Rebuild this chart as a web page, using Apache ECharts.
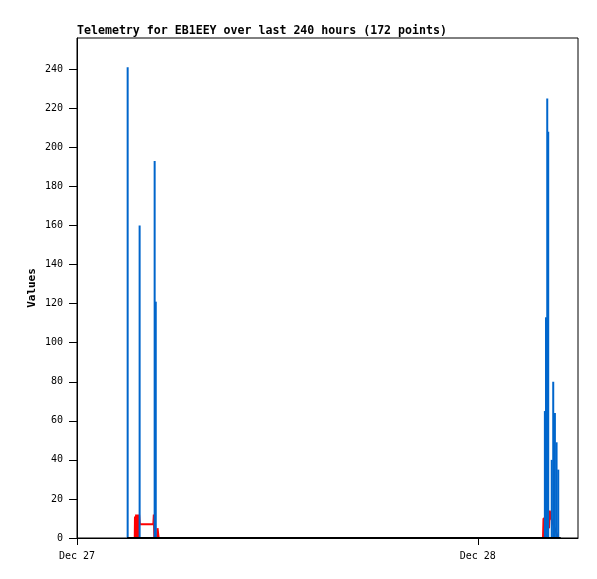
<!DOCTYPE html>
<html>
<head>
<meta charset="utf-8">
<script src="https://cdn.jsdelivr.net/npm/echarts@6/dist/echarts.min.js"></script>
<style>html,body{margin:0;padding:0;background:#fff}#c{width:597px;height:579px}</style>
</head>
<body>
<div id="c"></div>
<script>
// ---- data ----
const titleText = 'Telemetry for EB1EEY over last 240 hours (172 points)';
const yAxisName = 'Values';
const xStart = '2023-12-27T00:00:00Z';
const xEnd = '2023-12-28T06:00:00Z';
const yTicks = [0, 20, 40, 60, 80, 100, 120, 140, 160, 180, 200, 220, 240];

const blueTimes = [
  '2023-12-27T03:02:00Z', '2023-12-27T03:45:00Z', '2023-12-27T04:39:00Z', '2023-12-27T04:43:00Z',
  '2023-12-28T04:01:00Z', '2023-12-28T04:05:00Z', '2023-12-28T04:09:30Z', '2023-12-28T04:13:00Z',
  '2023-12-28T04:25:40Z', '2023-12-28T04:31:00Z', '2023-12-28T04:37:00Z', '2023-12-28T04:43:00Z',
  '2023-12-28T04:49:00Z'
];
const blueValues = [241, 160, 193, 121, 65, 113, 225, 208, 40, 80, 64, 49, 35];

const redTimes = [
  '2023-12-27T03:27:30Z', '2023-12-27T03:28:20Z', '2023-12-27T03:29:10Z', '2023-12-27T03:30:15Z',
  '2023-12-27T03:31:20Z', '2023-12-27T03:32:15Z', '2023-12-27T03:33:10Z', '2023-12-27T03:34:05Z',
  '2023-12-27T03:35:00Z', '2023-12-27T03:35:55Z', '2023-12-27T03:36:50Z', '2023-12-27T03:37:40Z',
  '2023-12-27T03:38:35Z', '2023-12-27T03:39:30Z', '2023-12-27T03:40:20Z', '2023-12-27T03:41:10Z',
  '2023-12-27T03:42:05Z', '2023-12-27T03:43:00Z', '2023-12-27T03:43:55Z', '2023-12-27T03:45:40Z',
  '2023-12-27T04:34:20Z', '2023-12-27T04:36:00Z', '2023-12-27T04:37:55Z', '2023-12-27T04:39:40Z',
  '2023-12-27T04:41:30Z', '2023-12-27T04:49:00Z', '2023-12-27T04:49:22Z', '2023-12-27T04:52:58Z',
  '2023-12-27T04:53:20Z',
  '2023-12-28T03:54:20Z', '2023-12-28T03:56:05Z', '2023-12-28T04:05:50Z', '2023-12-28T04:15:55Z',
  '2023-12-28T04:18:25Z', '2023-12-28T04:21:20Z', '2023-12-28T04:23:50Z', '2023-12-28T04:49:00Z'
];
const redValues = [
  0, 11, 0, 11, 0, 12, 0, 12, 0, 12, 0, 12, 0, 12, 0, 12, 0, 12, 12, 7,
  7, 12, 0, 12, 0, 0, 5, 5, 0,
  0, 10, 10, 5, 14, 14, 10, 0
];

const zeroTimes = ['2023-12-27T03:00:00Z', '2023-12-28T04:58:00Z'];
const zeroValues = [0, 0];

// ---- chart ----
const t = s => Date.parse(s);
const pair = (ts, vs) => ts.map((s, i) => [t(s), vs[i]]);
const MON = ['Jan','Feb','Mar','Apr','May','Jun','Jul','Aug','Sep','Oct','Nov','Dec'];
const DAY = 86400000;
const mono = 'DejaVu Sans Mono';

const chart = echarts.init(document.getElementById('c'), null, {renderer: 'canvas'});
chart.setOption({
  animation: false,
  backgroundColor: '#fff',
  title: {
    text: titleText, left: 77, top: 25, padding: 0,
    textStyle: {fontFamily: mono, fontWeight: 'bold', fontSize: 11.6, color: '#000'}
  },
  grid: {left: 77, right: 19, top: 38, bottom: 41, show: true, borderColor: '#000', borderWidth: 1, backgroundColor: 'transparent'},
  xAxis: {
    type: 'value', min: t(xStart), max: t(xEnd), interval: DAY,
    axisLine: {show: true, onZero: false, lineStyle: {color: '#000', width: 1}},
    axisTick: {show: true, inside: false, length: 7, lineStyle: {color: '#000'}},
    splitLine: {show: false},
    axisLabel: {
      margin: 13, fontFamily: mono, fontSize: 10, color: '#000', showMaxLabel: false,
      formatter: v => { const d = new Date(v); return MON[d.getUTCMonth()] + ' ' + d.getUTCDate(); }
    }
  },
  yAxis: {
    type: 'value', min: 0, max: 256, interval: 20,
    name: yAxisName, nameLocation: 'middle', nameRotate: 90, nameGap: 39, nameMoveOverlap: false,
    nameTextStyle: {fontFamily: mono, fontWeight: 'bold', fontSize: 11, color: '#000'},
    axisLine: {show: true, lineStyle: {color: '#000', width: 1}},
    axisTick: {show: true, inside: false, length: 8, lineStyle: {color: '#000'}},
    splitLine: {show: false},
    axisLabel: {
      margin: 14, fontFamily: mono, fontSize: 10, color: '#000', showMaxLabel: false,
      formatter: v => yTicks.indexOf(v) >= 0 ? String(v) : ''
    }
  },
  series: [
    {
      name: 'blue', type: 'bar', data: pair(blueTimes, blueValues),
      barWidth: 2, barGap: '-100%', itemStyle: {color: '#0066cc'}, z: 2, silent: true
    },
    {
      name: 'red', type: 'line', data: pair(redTimes, redValues),
      showSymbol: false, symbol: 'none', lineStyle: {color: '#ff0000', width: 2}, z: 1, silent: true
    },
    {
      name: 'zero', type: 'line', data: pair(zeroTimes, zeroValues),
      showSymbol: false, symbol: 'none', lineStyle: {color: '#000', width: 2}, z: 4, silent: true
    }
  ]
});
</script>
</body>
</html>
